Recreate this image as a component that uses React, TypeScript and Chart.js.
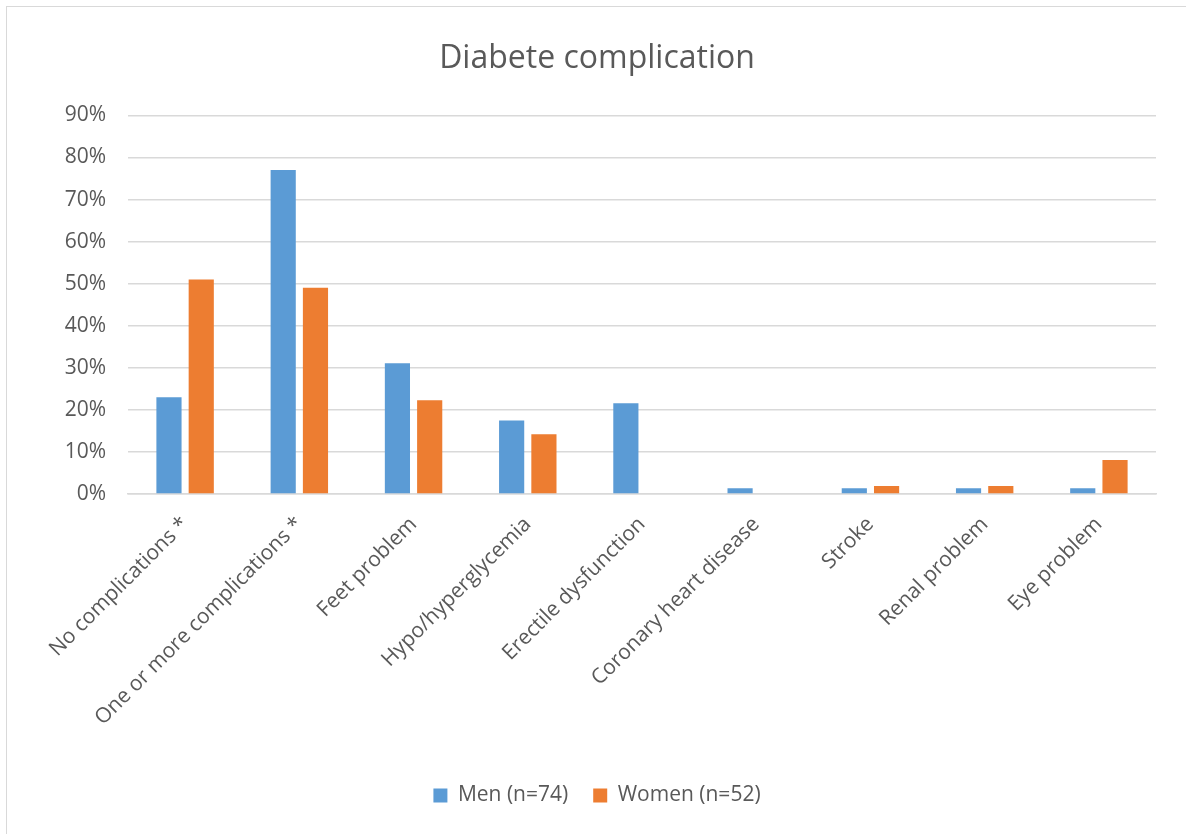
import React, { useEffect, useRef } from "react";
import { Chart, registerables } from "chart.js";

Chart.register(...registerables);

const categories = [
  "No complications *",
  "One or more complications *",
  "Feet problem",
  "Hypo/hyperglycemia",
  "Erectile dysfunction",
  "Coronary heart disease",
  "Stroke",
  "Renal problem",
  "Eye problem",
];
const menValues = [23, 77, 31.1, 17.5, 21.6, 1.35, 1.35, 1.35, 1.35];
const womenValues = [51, 49, 22.3, 14.2, 0, 0, 1.9, 1.9, 8.1];
const seriesLabels = ["Men (n=74)", "Women (n=52)"];
const chartTitle = "Diabete complication";

const FONT = "'Open Sans', 'Liberation Sans', sans-serif";
const TEXT = "#595959";

export default function App() {
  const ref = useRef<HTMLCanvasElement>(null);
  useEffect(() => {
    document.body.style.margin = "0";
    const ctx = ref.current!;
    const chart = new Chart(ctx, {
      type: "bar",
      data: {
        labels: categories,
        datasets: [
          {
            label: seriesLabels[0],
            data: menValues,
            backgroundColor: "#5b9bd5",
            borderWidth: 0,
            categoryPercentage: 0.565,
            barPercentage: 0.78,
          },
          {
            label: seriesLabels[1],
            data: womenValues,
            backgroundColor: "#ed7d31",
            borderWidth: 0,
            categoryPercentage: 0.565,
            barPercentage: 0.78,
          },
        ],
      },
      options: {
        animation: false,
        responsive: false,
        maintainAspectRatio: false,
        layout: { padding: { left: 38, right: 30, top: 0, bottom: 18 } },
        plugins: {
          title: {
            display: true,
            text: chartTitle,
            color: TEXT,
            font: { family: FONT, size: 32, weight: "normal" },
            padding: { top: 40, bottom: 37 },
          },
          legend: {
            position: "bottom",
            labels: {
              color: TEXT,
              font: { family: FONT, size: 21 },
              boxWidth: 14,
              boxHeight: 14,
              padding: 25,
            },
          },
          tooltip: { enabled: false },
        },
        scales: {
          x: {
            grid: { display: false },
            border: { color: "#d9d9d9", width: 1.5 },
            ticks: {
              color: TEXT,
              font: { family: FONT, size: 21 },
              maxRotation: 45,
              minRotation: 45,
              autoSkip: false,
              padding: 10,
              labelOffset: 0,
            },
            afterFit: (s: any) => {
              s.height = 266;
            },
          },
          y: {
            min: 0,
            max: 90,
            grid: { color: "#d9d9d9", lineWidth: 1.5, drawTicks: false },
            border: { display: false },
            ticks: {
              stepSize: 10,
              color: TEXT,
              font: { family: FONT, size: 21 },
              padding: 22,
              callback: (v: any) => v + "%",
            },
            afterFit: (s: any) => {
              s.width = 90;
            },
          },
        },
      },
    });
    return () => chart.destroy();
  }, []);
  return (
    <div style={{ position: "relative", width: 1186, height: 834 }}>
      <div
        style={{
          position: "absolute",
          left: 6,
          top: 6,
          width: 1200,
          height: 850,
          border: "1.5px solid #d9d9d9",
          boxSizing: "border-box",
        }}
      />
      <canvas
        ref={ref}
        width={1186}
        height={834}
        style={{ position: "absolute", left: 0, top: 0 }}
      />
    </div>
  );
}
